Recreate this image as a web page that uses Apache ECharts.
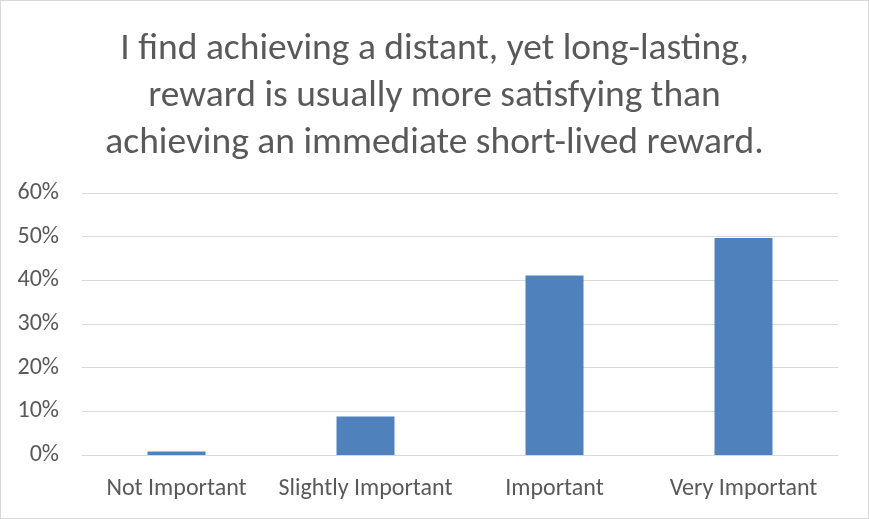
<!DOCTYPE html>
<html><head><meta charset="utf-8">
<script src="https://cdn.jsdelivr.net/npm/echarts@6/dist/echarts.min.js"></script>
<style>html,body{margin:0;padding:0;background:#fff}#c{width:869px;height:519px;box-sizing:border-box;border:1px solid #d9d9d9}</style>
</head><body><div id="c"></div>
<script>
const categories = ["Not Important", "Slightly Important", "Important", "Very Important"];
const values = [0.8, 8.8, 41.1, 49.7];
const yTicks = [0, 10, 20, 30, 40, 50, 60];
const titleText = "I find achieving a distant, yet long-lasting,\nreward is usually more satisfying than\nachieving an immediate short-lived reward.";
const FONT = 'Carlito, Calibri, "Liberation Sans", sans-serif';

const chart = echarts.init(document.getElementById('c'));
chart.setOption({
  animation: false,
  title: {
    text: titleText, left: 'center', top: 20,
    textStyle: { fontFamily: FONT, fontSize: 37.5, fontWeight: 'normal', color: '#595959', lineHeight: 47 }
  },
  grid: { left: 81, right: 30, top: 192, bottom: 63 },
  xAxis: {
    type: 'category', data: categories,
    axisLine: { lineStyle: { color: '#d9d9d9', width: 1 } },
    axisTick: { show: false },
    axisLabel: { color: '#595959', fontSize: 24, margin: 22, interval: 0, fontFamily: FONT }
  },
  yAxis: {
    type: 'value', min: yTicks[0], max: yTicks[yTicks.length - 1], interval: 10,
    axisLine: { show: false }, axisTick: { show: false },
    splitLine: { lineStyle: { color: '#d9d9d9', width: 1 } },
    axisLabel: { color: '#595959', fontSize: 24, margin: 23, formatter: v => v + '%', fontFamily: FONT }
  },
  series: [{
    type: 'bar', data: values, barWidth: 58,
    itemStyle: { color: '#4F81BD' }
  }]
});
</script></body></html>
